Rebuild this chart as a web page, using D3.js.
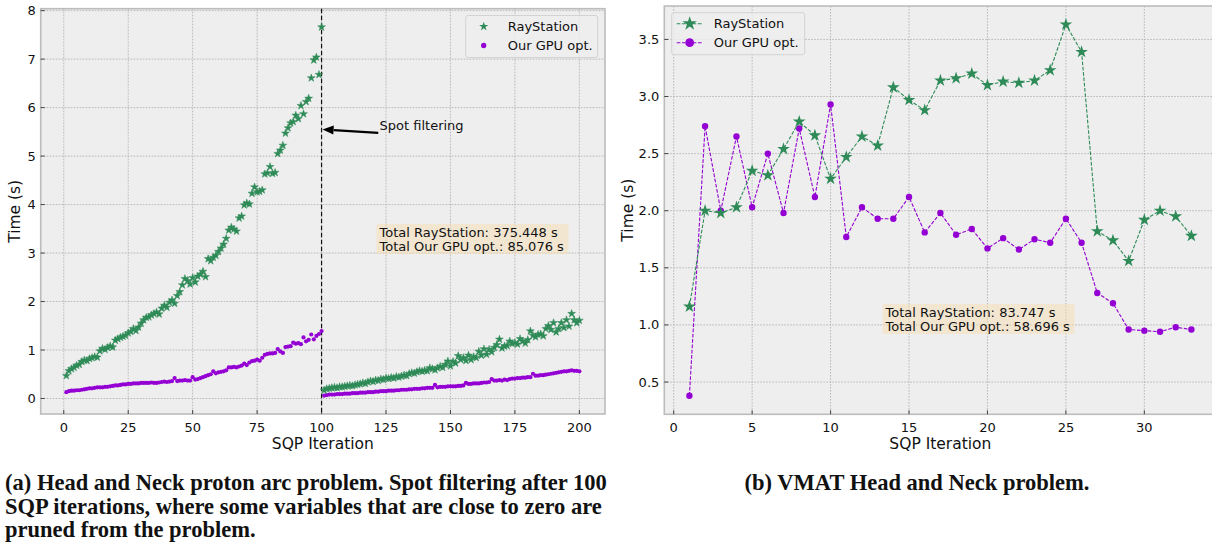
<!DOCTYPE html>
<html>
<head>
<meta charset="utf-8">
<script src="https://cdn.jsdelivr.net/npm/d3@7"></script>
<style>
  body { margin: 0; background: #fff; }
  svg { display: block; }
  text { font-family: "DejaVu Sans", sans-serif; fill: #111; }
  .cap { font-family: "Liberation Serif", serif; font-weight: bold; }
</style>
</head>
<body>
<svg id="chart" width="1212" height="552"></svg>
<script>
// ---- data (a): proton arc, iterations 1..200, spot filtering after 100
const seriesNames = ['RayStation', 'Our GPU opt.'];

const rsBefore = [0.47,0.57,0.61,0.64,0.68,0.70,0.76,0.79,0.78,0.82,0.84,0.86,0.85,0.98,1.03,1.01,1.05,1.08,1.06,1.20,
  1.23,1.26,1.28,1.30,1.35,1.38,1.44,1.40,1.47,1.55,1.62,1.67,1.68,1.72,1.75,1.78,1.74,1.86,1.92,1.88,
  1.98,2.03,1.96,2.12,2.20,2.34,2.47,2.43,2.36,2.49,2.40,2.52,2.56,2.62,2.51,2.88,2.84,2.91,2.95,3.03,
  3.10,3.18,3.30,3.47,3.53,3.49,3.45,3.72,3.76,3.99,4.03,4.01,4.23,4.36,4.26,4.27,4.30,4.63,4.65,4.78,
  4.64,4.66,5.05,5.12,5.22,5.47,5.58,5.68,5.71,5.84,5.77,6.04,5.87,6.12,6.19,6.61,6.98,7.04,6.68,7.66];
const rsAfter = [0.17,0.20,0.21,0.22,0.23,0.22,0.24,0.24,0.25,0.26,0.27,0.26,0.28,0.29,0.30,0.32,0.31,0.34,0.36,0.35,
  0.38,0.37,0.40,0.39,0.42,0.41,0.43,0.42,0.45,0.44,0.46,0.48,0.47,0.51,0.53,0.52,0.55,0.57,0.56,0.58,
  0.57,0.63,0.61,0.59,0.63,0.66,0.64,0.70,0.77,0.67,0.76,0.73,0.88,0.80,0.84,0.78,0.89,0.80,0.86,0.84,
  0.97,0.89,1.02,0.91,1.01,0.96,1.05,1.11,1.22,1.04,1.08,1.09,1.18,1.13,1.15,1.12,1.23,1.18,1.14,1.21,
  1.39,1.30,1.27,1.32,1.33,1.29,1.44,1.50,1.42,1.56,1.37,1.44,1.56,1.46,1.62,1.49,1.75,1.62,1.56,1.61];
const gpuBefore = [0.13,0.15,0.16,0.16,0.17,0.17,0.18,0.19,0.20,0.21,0.21,0.22,0.23,0.23,0.23,0.24,0.24,0.25,0.26,0.27,
  0.27,0.28,0.29,0.29,0.30,0.30,0.31,0.31,0.31,0.32,0.32,0.32,0.32,0.33,0.32,0.32,0.33,0.34,0.35,0.34,
  0.35,0.36,0.42,0.36,0.37,0.37,0.38,0.37,0.37,0.44,0.39,0.40,0.42,0.44,0.46,0.48,0.50,0.56,0.52,0.54,
  0.55,0.56,0.58,0.64,0.64,0.65,0.64,0.66,0.68,0.72,0.69,0.74,0.77,0.78,0.80,0.78,0.84,0.90,0.92,0.93,
  0.93,0.94,1.02,0.97,0.94,1.06,1.07,1.08,1.15,1.13,1.14,1.12,1.26,1.18,1.21,1.32,1.22,1.29,1.33,1.39];
const gpuAfter = [0.06,0.07,0.08,0.08,0.08,0.09,0.09,0.09,0.10,0.10,0.10,0.11,0.11,0.11,0.12,0.12,0.12,0.13,0.13,0.13,
  0.14,0.14,0.15,0.15,0.15,0.16,0.16,0.16,0.17,0.17,0.18,0.18,0.18,0.19,0.19,0.20,0.20,0.20,0.21,0.21,
  0.22,0.22,0.22,0.28,0.23,0.24,0.24,0.24,0.25,0.25,0.25,0.25,0.26,0.26,0.27,0.32,0.30,0.30,0.31,0.31,
  0.31,0.32,0.33,0.33,0.34,0.40,0.37,0.37,0.38,0.37,0.39,0.38,0.40,0.41,0.41,0.42,0.42,0.43,0.43,0.44,
  0.44,0.51,0.47,0.47,0.48,0.48,0.49,0.50,0.51,0.52,0.53,0.54,0.55,0.56,0.56,0.57,0.58,0.57,0.57,0.56];
const filterIter = 100;
const ticksA_x = [0, 25, 50, 75, 100, 125, 150, 175, 200];
const ticksA_y = [0, 1, 2, 3, 4, 5, 6, 7, 8];
const totalsA = ['Total RayStation: 375.448 s', 'Total Our GPU opt.: 85.076 s'];

// ---- data (b): VMAT, iterations 1..33
const rsVmat = [1.16,2.00,1.98,2.03,2.35,2.31,2.54,2.78,2.66,2.28,2.47,2.65,2.57,3.08,2.97,2.88,3.14,3.16,3.20,3.10,
  3.13,3.12,3.14,3.23,3.63,3.39,1.82,1.74,1.56,1.92,2.00,1.95,1.78];
const gpuVmat = [0.38,2.74,2.00,2.65,2.03,2.50,1.98,2.72,2.12,2.93,1.77,2.03,1.93,1.93,2.12,1.81,1.98,1.79,1.84,1.67,
  1.76,1.66,1.75,1.72,1.93,1.72,1.28,1.19,0.96,0.95,0.94,0.98,0.96];
const ticksB_x = [0, 5, 10, 15, 20, 25, 30];
const ticksB_y = [0.5, 1.0, 1.5, 2.0, 2.5, 3.0, 3.5];
const totalsB = ['Total RayStation: 83.747 s', 'Total Our GPU opt.: 58.696 s'];

const captionA = ['(a) Head and Neck proton arc problem. Spot filtering after 100',
  'SQP iterations, where some variables that are close to zero are',
  'pruned from the problem.'];
const captionB = '(b) VMAT Head and Neck problem.';

const GREEN = '#2e8b57', PURPLE = '#9400d3';

const svg = d3.select('#chart');

// pad a domain like matplotlib's 5% margins
function padded(ext) {
  const m = (ext[1] - ext[0]) * 0.05;
  return [ext[0] - m, ext[1] + m];
}

function panel(cfg) {
  const x = d3.scaleLinear().domain(padded(cfg.xExt)).range([cfg.left, cfg.right]);
  const y = d3.scaleLinear().domain(padded(cfg.yExt)).range([cfg.bottom, cfg.top]);
  const g = svg.append('g');

  g.append('rect')
    .attr('x', cfg.left).attr('y', cfg.top)
    .attr('width', cfg.right - cfg.left).attr('height', cfg.bottom - cfg.top)
    .attr('fill', '#eeeeee');

  // grid
  g.selectAll('.gx').data(cfg.xTicks).join('line')
    .attr('x1', d => x(d)).attr('x2', d => x(d))
    .attr('y1', cfg.top).attr('y2', cfg.bottom)
    .attr('stroke', '#b2b2b2').attr('stroke-width', 0.9).attr('stroke-dasharray', '1.6,1.4');
  g.selectAll('.gy').data(cfg.yTicks).join('line')
    .attr('x1', cfg.left).attr('x2', cfg.right)
    .attr('y1', d => y(d)).attr('y2', d => y(d))
    .attr('stroke', '#b2b2b2').attr('stroke-width', 0.9).attr('stroke-dasharray', '1.6,1.4');

  // frame
  g.append('rect')
    .attr('x', cfg.left).attr('y', cfg.top)
    .attr('width', cfg.right - cfg.left).attr('height', cfg.bottom - cfg.top)
    .attr('fill', 'none').attr('stroke', '#bcbcbc').attr('stroke-width', 1.6);

  // ticks, pointing inwards
  g.selectAll('.tx').data(cfg.xTicks).join('line')
    .attr('x1', d => x(d)).attr('x2', d => x(d))
    .attr('y1', cfg.bottom).attr('y2', cfg.bottom - 4)
    .attr('stroke', '#333').attr('stroke-width', 0.9);
  g.selectAll('.ty').data(cfg.yTicks).join('line')
    .attr('x1', cfg.left).attr('x2', cfg.left + 4)
    .attr('y1', d => y(d)).attr('y2', d => y(d))
    .attr('stroke', '#333').attr('stroke-width', 0.9);

  g.selectAll('.lx').data(cfg.xTicks).join('text')
    .attr('x', d => x(d)).attr('y', cfg.bottom + 17.5)
    .attr('text-anchor', 'middle').attr('font-size', 13)
    .text(d => d);
  g.selectAll('.ly').data(cfg.yTicks).join('text')
    .attr('x', cfg.left - 5).attr('y', d => y(d) + 4.5)
    .attr('text-anchor', 'end').attr('font-size', 13)
    .text(cfg.yFmt);

  g.append('text')
    .attr('x', (cfg.left + cfg.right) / 2).attr('y', cfg.bottom + 34.5)
    .attr('text-anchor', 'middle').attr('font-size', 15.5)
    .text('SQP Iteration');
  g.append('text')
    .attr('transform', `translate(${cfg.yLabelX},${(cfg.top + cfg.bottom) / 2}) rotate(-90)`)
    .attr('text-anchor', 'middle').attr('font-size', 15.5)
    .text('Time (s)');

  return { g, x, y };
}

const star = (size) => d3.symbol().type(d3.symbolStar).size(size);
const dot = (size) => d3.symbol().type(d3.symbolCircle).size(size);

// ================= panel (a) =================
const itersA = d3.range(1, 201);
const rsA = rsBefore.concat(rsAfter);
const gpuA = gpuBefore.concat(gpuAfter);
const A = panel({
  left: 40.7, right: 605, top: 8.7, bottom: 414,
  xExt: d3.extent(itersA), yExt: d3.extent(rsA.concat(gpuA)),
  xTicks: ticksA_x, yTicks: ticksA_y, yFmt: d => d, yLabelX: 20
});

A.g.append('line')
  .attr('x1', A.x(filterIter)).attr('x2', A.x(filterIter))
  .attr('y1', 8.7).attr('y2', 414)
  .attr('stroke', '#111').attr('stroke-width', 1.2).attr('stroke-dasharray', '4.5,2.5');

A.g.append('g').selectAll('path').data(itersA).join('path')
  .attr('transform', (d, i) => `translate(${A.x(d)},${A.y(gpuA[i])})`)
  .attr('d', dot(14)).attr('fill', PURPLE);
A.g.append('g').selectAll('path').data(itersA).join('path')
  .attr('transform', (d, i) => `translate(${A.x(d)},${A.y(rsA[i])})`)
  .attr('d', star(19)).attr('fill', GREEN).attr('stroke', GREEN).attr('stroke-width', 0.5);

// annotation arrow
{
  const tipX = A.x(filterIter) + 1, tipY = A.y(5.55);
  const tailX = A.x(122), tailY = A.y(5.48);
  const ang = Math.atan2(tailY - tipY, tailX - tipX);
  const hl = 11, hw = 4.5;
  const bx = tipX + hl * Math.cos(ang), by = tipY + hl * Math.sin(ang);
  A.g.append('line')
    .attr('x1', bx).attr('y1', by).attr('x2', tailX).attr('y2', tailY)
    .attr('stroke', '#000').attr('stroke-width', 2.2);
  A.g.append('path')
    .attr('d', `M${tipX},${tipY} L${bx - hw * Math.sin(ang)},${by + hw * Math.cos(ang)} L${bx + hw * Math.sin(ang)},${by - hw * Math.cos(ang)} Z`)
    .attr('fill', '#000');
  A.g.append('text').attr('x', A.x(122.5)).attr('y', A.y(5.55) + 1)
    .attr('font-size', 13).text('Spot filtering');
}

function totalsBox(p, x0, y0, lines, w) {
  p.g.append('rect').attr('x', x0 - 3).attr('y', y0 - 11).attr('width', w).attr('height', 30)
    .attr('rx', 1.5).attr('fill', 'rgba(245,222,179,0.5)');
  p.g.selectAll('.tot').data(lines).enter().append('text')
    .attr('x', x0).attr('y', (d, i) => y0 + 2 + i * 14)
    .attr('font-size', 13).text(d => d);
}
totalsBox(A, 379.5, 235, totalsA, 192);

function legend(p, x0, y0, w, withLine) {
  const lg = p.g.append('g');
  lg.append('rect').attr('x', x0).attr('y', y0).attr('width', w).attr('height', 42)
    .attr('rx', 2.5).attr('fill', 'rgba(238,238,238,0.8)').attr('stroke', '#cfcfcf').attr('stroke-width', 0.9);
  const rows = [
    { name: seriesNames[0], c: GREEN, sym: withLine ? star(64) : star(26) },
    { name: seriesNames[1], c: PURPLE, sym: withLine ? dot(60) : dot(22) }
  ];
  rows.forEach((r, i) => {
    const cy = y0 + 11 + i * 19;
    if (withLine) {
      lg.append('line').attr('x1', x0 + 5).attr('x2', x0 + 31).attr('y1', cy).attr('y2', cy)
        .attr('stroke', r.c).attr('stroke-width', 1.1).attr('stroke-dasharray', '3.7,1.6');
    }
    lg.append('path').attr('transform', `translate(${x0 + 18},${cy})`).attr('d', r.sym()).attr('fill', r.c);
    lg.append('text').attr('x', x0 + 42).attr('y', cy + 4.5).attr('font-size', 13).text(r.name);
  });
}
legend(A, 465.7, 15.5, 132, false);

// ================= panel (b) =================
const itersB = d3.range(1, rsVmat.length + 1);
const B = panel({
  left: 664.3, right: 1216.5, top: 6, bottom: 414.3,
  xExt: d3.extent(itersB), yExt: d3.extent(rsVmat.concat(gpuVmat)),
  xTicks: ticksB_x, yTicks: ticksB_y, yFmt: d3.format('.1f'), yLabelX: 633
});

[[gpuVmat, PURPLE, dot(32)], [rsVmat, GREEN, star(50)]].forEach(([vals, col, sym]) => {
  const line = d3.line().x((d, i) => B.x(itersB[i])).y(d => B.y(d));
  B.g.append('path').datum(vals).attr('d', line)
    .attr('fill', 'none').attr('stroke', col).attr('stroke-width', 1.1).attr('stroke-dasharray', '3.7,1.6');
  B.g.append('g').selectAll('path').data(vals).join('path')
    .attr('transform', (d, i) => `translate(${B.x(itersB[i])},${B.y(d)})`)
    .attr('d', sym).attr('fill', col);
});

totalsBox(B, 885.5, 315, totalsB, 192);
legend(B, 671.7, 12.7, 133, true);

// ================= captions =================
const capA = svg.append('g');
capA.selectAll('text').data(captionA).join('text')
  .attr('class', 'cap').attr('x', 5).attr('y', (d, i) => 490 + i * 23.5)
  .attr('font-size', 20).text(d => d);
// fit first caption line to the column width
const w0 = capA.select('text').node().getComputedTextLength();
const fs = 20 * 602 / w0;
capA.selectAll('text').attr('font-size', fs);
svg.append('text').attr('class', 'cap')
  .attr('x', 917).attr('y', 490).attr('text-anchor', 'middle')
  .attr('font-size', fs).text(captionB);
</script>
</body>
</html>
